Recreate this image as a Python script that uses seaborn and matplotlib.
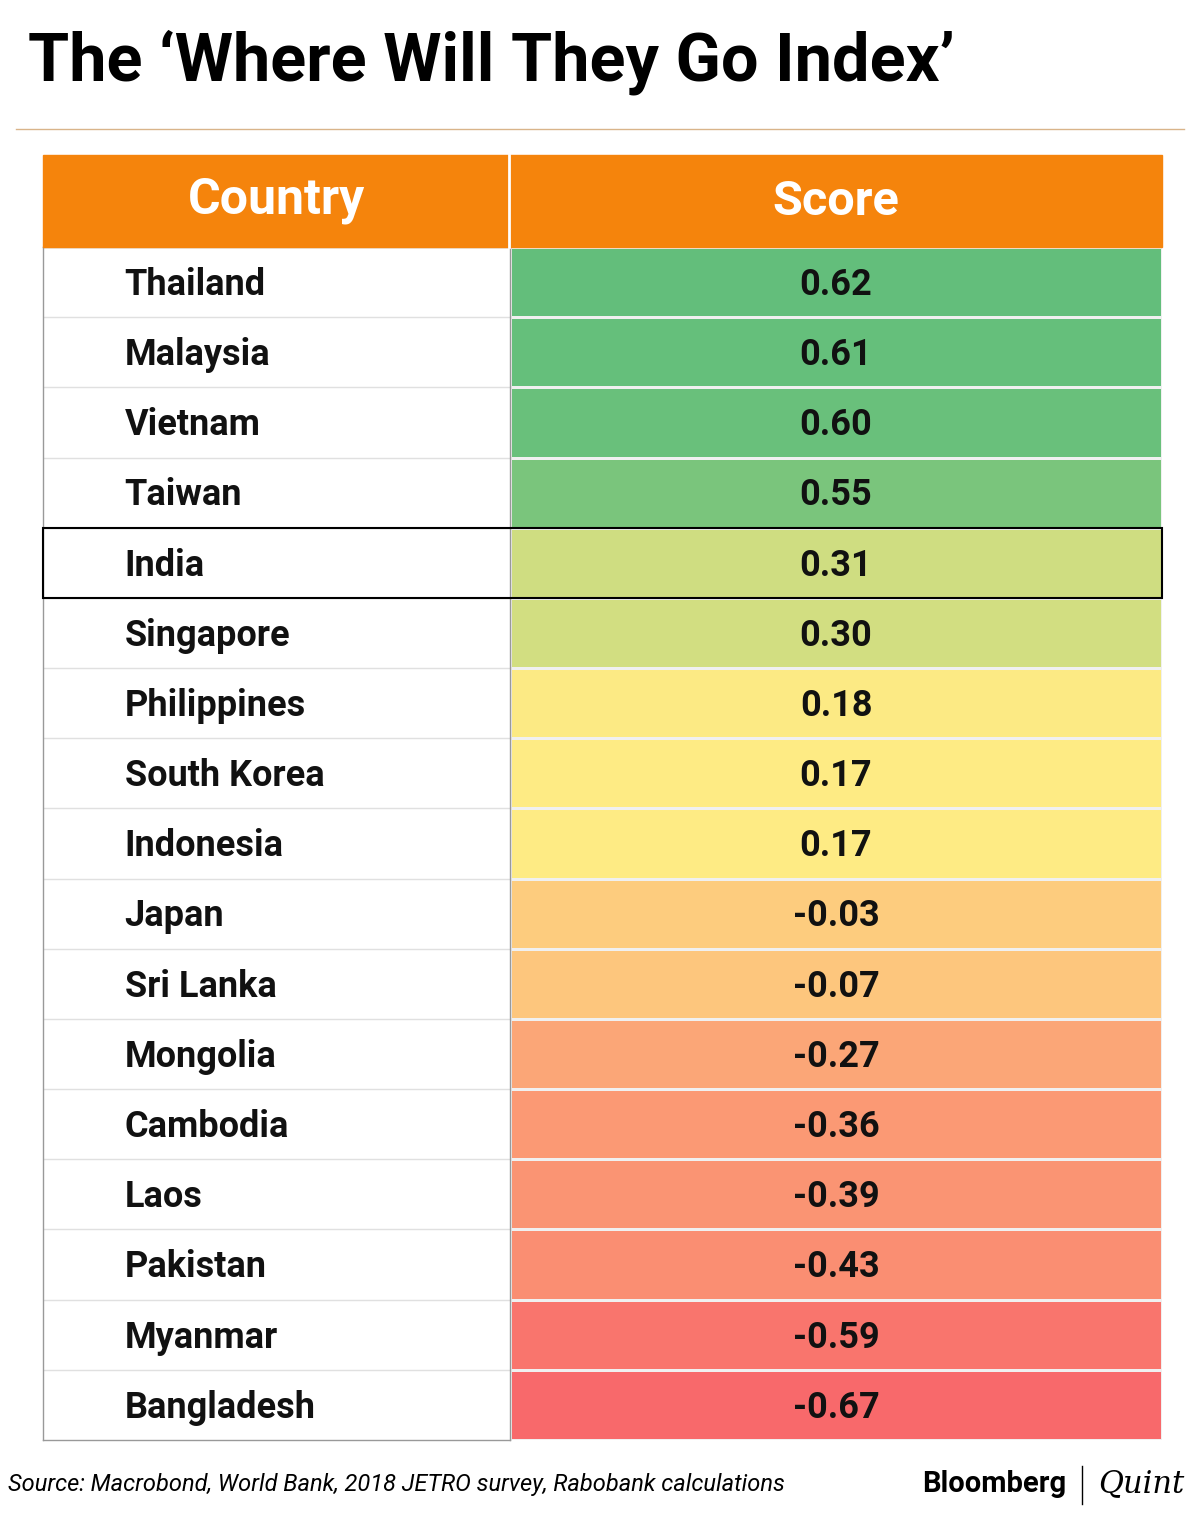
import numpy as np
import pandas as pd
import seaborn as sns
import matplotlib
matplotlib.use("Agg")
import matplotlib.pyplot as plt
from matplotlib.colors import LinearSegmentedColormap, TwoSlopeNorm
from matplotlib.patches import Rectangle
from matplotlib.lines import Line2D

countries = ["Thailand", "Malaysia", "Vietnam", "Taiwan", "India", "Singapore",
             "Philippines", "South Korea", "Indonesia", "Japan", "Sri Lanka",
             "Mongolia", "Cambodia", "Laos", "Pakistan", "Myanmar", "Bangladesh"]
scores = [0.62, 0.61, 0.60, 0.55, 0.31, 0.30, 0.18, 0.17, 0.17, -0.03, -0.07,
          -0.27, -0.36, -0.39, -0.43, -0.59, -0.67]
headers = ["Country", "Score"]
title = "The \u2018Where Will They Go Index\u2019"
source = "Source: Macrobond, World Bank, 2018 JETRO survey, Rabobank calculations"

W, H = 1200, 1518
fig = plt.figure(figsize=(W/100, H/100), dpi=100)
fig.patch.set_facecolor("white")
def fx(x): return x / W
def fy(y): return 1 - y / H

FONT = "Roboto"
top, bot = 247, 1440
xl, xm, xr = 43, 510, 1162
n = len(countries)

cmap = LinearSegmentedColormap.from_list("rag", ["#f8696b", "#ffeb84", "#63be7b"])
norm = TwoSlopeNorm(vmin=min(scores), vcenter=float(np.median(scores)), vmax=max(scores))
df = pd.DataFrame({"Score": scores}, index=countries)

ax_s = fig.add_axes([fx(xm), fy(bot), fx(xr - xm), (bot - top) / H])
sns.heatmap(df, ax=ax_s, cmap=cmap, norm=norm, cbar=False, annot=True, fmt=".2f",
            annot_kws=dict(fontsize=26, fontweight="bold", color="#111111", family=FONT),
            linewidths=0.8, linecolor="#f0f0f0")
for t in ax_s.texts:
    x, y = t.get_position()
    t.set_position((x, y + 0.04))
ax_s.set_xticks([]); ax_s.set_yticks([])
ax_s.set_xlabel(""); ax_s.set_ylabel("")

ax_c = fig.add_axes([fx(xl), fy(bot), fx(xm - xl), (bot - top) / H])
ax_c.set_xlim(0, 1); ax_c.set_ylim(n, 0)
ax_c.set_xticks([]); ax_c.set_yticks([])
for s in ax_c.spines.values():
    s.set_color("#999999"); s.set_linewidth(1)
for i, c in enumerate(countries):
    ax_c.text(0.175, i + 0.54, c, va="center", ha="left", fontsize=26,
              fontweight="bold", color="#111111", family=FONT)
    if i > 0:
        ax_c.axhline(i, color="#e0e0e0", lw=1)

# India row border
i = countries.index("India")
rh = (bot - top) / n
fig.patches.append(Rectangle((fx(xl), fy(top + (i + 1) * rh)), fx(xr - xl), rh / H,
                             transform=fig.transFigure, fill=False, ec="black", lw=1.5, zorder=10))

# header
fig.patches.append(Rectangle((fx(xl), fy(247)), fx(xr - xl), (247 - 155) / H,
                             transform=fig.transFigure, color="#f5840c", zorder=5))
fig.lines.append(Line2D([fx(509), fx(509)], [fy(155), fy(247)], transform=fig.transFigure,
                        color="white", lw=2, zorder=6))
fig.text(fx((xl + xm) / 2), fy(200), headers[0], ha="center", va="center", fontsize=36,
         fontweight="bold", color="white", family=FONT, zorder=7)
fig.text(fx((xm + xr) / 2), fy(202), headers[1], ha="center", va="center", fontsize=35,
         fontweight="bold", color="white", family=FONT, zorder=7)

fig.text(fx(28), fy(62), title, ha="left", va="center", fontsize=48, fontweight="bold",
         color="black", family=FONT)
fig.lines.append(Line2D([fx(16), fx(1184)], [fy(129), fy(129)], transform=fig.transFigure,
                        color="#d9b48a", lw=1))

fig.text(fx(8), fy(1484), source, ha="left", va="center", fontsize=17, style="italic",
         color="black", family=FONT)
fig.text(fx(1066), fy(1484), "Bloomberg", ha="right", va="center", fontsize=21,
         fontweight="bold", color="black", family=FONT)
fig.lines.append(Line2D([fx(1082), fx(1082)], [fy(1466), fy(1504)], transform=fig.transFigure,
                        color="black", lw=1))
fig.text(fx(1098), fy(1484), "Quint", ha="left", va="center", fontsize=22, style="italic",
         color="black", family="DejaVu Serif")

fig.savefig("out.png", dpi=100)
